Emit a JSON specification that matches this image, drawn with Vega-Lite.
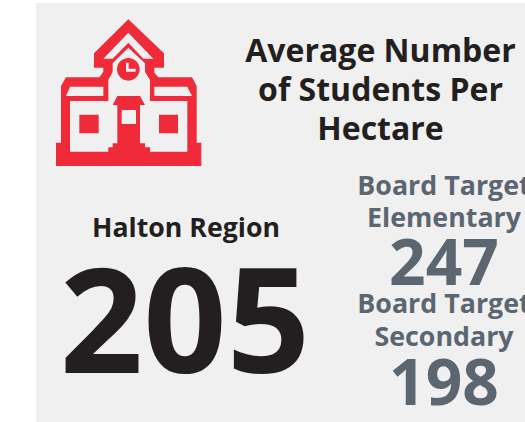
{"$schema":"https://vega.github.io/schema/vega-lite/v6.json","width":525,"height":422,"padding":0,"autosize":{"type":"none"},"background":"#ffffff","config":{"view":{"stroke":null}},
"encoding":{"x":{"field":"x","type":"quantitative","scale":{"domain":[0,525]},"axis":null},"y":{"field":"y","type":"quantitative","scale":{"domain":[422,0]},"axis":null}},
"layer":[
{"data":{"values":[{"x":36,"x2":525,"y":3,"y2":422}]},"mark":{"type":"rect","color":"#f0f0f0"},"encoding":{"x2":{"field":"x2"},"y2":{"field":"y2"}}},
{"data":{"values":[{"x":128,"y":90}]},"mark":{"type":"point","filled":true,"opacity":1,"size":0.4444,"color":"#ef2b3a","strokeWidth":0,"shape":"M1,-212L108,-110L108,-67L79,-67L79,-52L91,-38L192,-38L206,-12L206,158L220,158L220,228L-216,228L-216,158L-201,158L-201,-12L-186,-38L-86,-38L-74,-55L-74,-67L-102,-67L-102,-110ZM1,-172L-74,-94L-46,-94L1,-142L46,-94L76,-94ZM1,-127L-46,-80L-46,-55L-59,-30L-59,33L-174,33L-174,185L-59,185L-59,172L-46,172L-46,160L-32,160L-32,45L-46,45L-32,18L36,18L51,45L36,45L36,160L51,160L51,172L66,172L66,185L178,185L178,33L66,33L66,-30L51,-55L51,-80ZM-174,-10L-186,18L-74,18L-74,-10ZM79,-10L79,18L192,18L178,-10ZM-19,60L-19,102L24,102L24,60ZM-146,74L-88,74L-88,130L-146,130ZM93,74L150,74L150,130L93,130ZM-33,-62A34,34 0 1 1 35,-62A34,34 0 1 1 -33,-62ZM-6,-82L-6,-55L23,-55L23,-64L2,-64L2,-82Z"}},
{"data":{"values":[{"x":380.5,"y":62,"t":"Average Number"},{"x":380.5,"y":101,"t":"of Students Per"},{"x":380.5,"y":140,"t":"Hectare"}]},"mark":{"type":"text","font":"Open Sans","fontWeight":700,"fontSize":32,"color":"#231f20","align":"center","baseline":"alphabetic"},"encoding":{"text":{"field":"t"}}},
{"data":{"values":[{"x":186,"y":237,"t":"Halton Region"}]},"mark":{"type":"text","font":"Open Sans","fontWeight":700,"fontSize":26.7,"color":"#231f20","align":"center","baseline":"alphabetic"},"encoding":{"text":{"field":"t"}}},
{"data":{"values":[{"x":185,"y":373,"t":"205"}]},"mark":{"type":"text","font":"Open Sans","fontWeight":700,"fontSize":146,"color":"#231f20","align":"center","baseline":"alphabetic"},"encoding":{"text":{"field":"t"}}},
{"data":{"values":[{"x":444,"y":195,"t":"Board Target"},{"x":444,"y":227,"t":"Elementary"},{"x":444,"y":313,"t":"Board Target"},{"x":444,"y":346,"t":"Secondary"}]},"mark":{"type":"text","font":"Open Sans","fontWeight":700,"fontSize":26.8,"color":"#5b6670","align":"center","baseline":"alphabetic"},"encoding":{"text":{"field":"t"}}},
{"data":{"values":[{"x":444,"y":285,"t":"247"},{"x":444,"y":405,"t":"198"}]},"mark":{"type":"text","font":"Open Sans","fontWeight":700,"fontSize":64,"color":"#5b6670","align":"center","baseline":"alphabetic"},"encoding":{"text":{"field":"t"}}}
]}
